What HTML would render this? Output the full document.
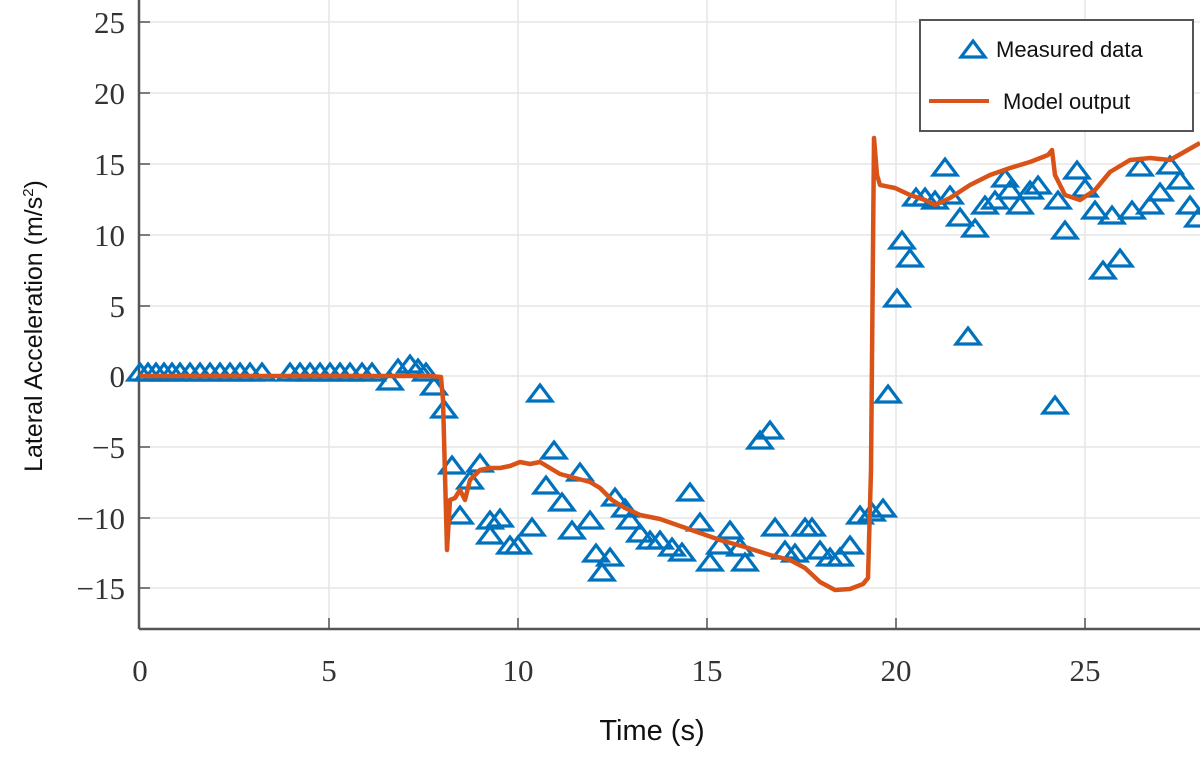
<!DOCTYPE html>
<html><head><meta charset="utf-8"><style>body{margin:0;background:#fff}svg{display:block}</style></head>
<body>
<svg width="1200" height="768" viewBox="0 0 1200 768" xmlns="http://www.w3.org/2000/svg" font-family="Liberation Serif, serif">
<rect width="1200" height="768" fill="#fff"/>
<g stroke="#e6e6e6" stroke-width="1.5">
<line x1="329" y1="0" x2="329" y2="629"/><line x1="518" y1="0" x2="518" y2="629"/><line x1="707" y1="0" x2="707" y2="629"/><line x1="896" y1="0" x2="896" y2="629"/><line x1="1085" y1="0" x2="1085" y2="629"/>
<line x1="140" y1="22" x2="1200" y2="22"/><line x1="140" y1="93" x2="1200" y2="93"/><line x1="140" y1="164" x2="1200" y2="164"/><line x1="140" y1="235" x2="1200" y2="235"/><line x1="140" y1="306" x2="1200" y2="306"/><line x1="140" y1="376" x2="1200" y2="376"/><line x1="140" y1="447" x2="1200" y2="447"/><line x1="140" y1="518" x2="1200" y2="518"/><line x1="140" y1="588" x2="1200" y2="588"/>
</g>
<g stroke="#555" stroke-width="2.5" fill="none">
<line x1="139" y1="0" x2="139" y2="629"/><line x1="139" y1="629" x2="1200" y2="629"/>
</g>
<g stroke="#555" stroke-width="1.5">
<line x1="139" y1="22" x2="150" y2="22"/><line x1="139" y1="93" x2="150" y2="93"/><line x1="139" y1="164" x2="150" y2="164"/><line x1="139" y1="235" x2="150" y2="235"/><line x1="139" y1="306" x2="150" y2="306"/><line x1="139" y1="376" x2="150" y2="376"/><line x1="139" y1="447" x2="150" y2="447"/><line x1="139" y1="518" x2="150" y2="518"/><line x1="139" y1="588" x2="150" y2="588"/>
<line x1="329" y1="629" x2="329" y2="618"/><line x1="518" y1="629" x2="518" y2="618"/><line x1="707" y1="629" x2="707" y2="618"/><line x1="896" y1="629" x2="896" y2="618"/><line x1="1085" y1="629" x2="1085" y2="618"/>
</g>
<g font-size="31" fill="#333" text-anchor="end">
<text x="125" y="33">25</text><text x="125" y="104">20</text><text x="125" y="175">15</text><text x="125" y="246">10</text><text x="125" y="317">5</text><text x="125" y="387">0</text><text x="125" y="458">−5</text><text x="125" y="529">−10</text><text x="125" y="599">−15</text>
</g>
<g font-size="31" fill="#333" text-anchor="middle">
<text x="140" y="681">0</text><text x="329" y="681">5</text><text x="518" y="681">10</text><text x="707" y="681">15</text><text x="896" y="681">20</text><text x="1085" y="681">25</text>
</g>
<text x="652" y="740" font-family="Liberation Sans, sans-serif" font-size="29" text-anchor="middle" fill="#111">Time (s)</text>
<text transform="translate(42,326) rotate(-90)" font-family="Liberation Sans, sans-serif" font-size="25" text-anchor="middle" fill="#111">Lateral Acceleration (m/s<tspan dy="-9" font-size="15">2</tspan><tspan dy="9">)</tspan></text>
<defs><path id="t" d="M0,-8 L12,8 L-12,8 Z" fill="none" stroke="#0072BD" stroke-width="3.2"/></defs>
<g>
<use href="#t" x="140" y="372"/><use href="#t" x="148" y="372"/><use href="#t" x="156" y="372"/><use href="#t" x="164" y="372"/><use href="#t" x="172" y="372"/><use href="#t" x="180" y="372"/><use href="#t" x="190" y="372"/><use href="#t" x="200" y="372"/><use href="#t" x="210" y="372"/><use href="#t" x="220" y="372"/><use href="#t" x="230" y="372"/><use href="#t" x="240" y="372"/><use href="#t" x="250" y="372"/><use href="#t" x="262" y="372"/><use href="#t" x="290" y="372"/><use href="#t" x="300" y="372"/><use href="#t" x="310" y="372"/><use href="#t" x="320" y="372"/><use href="#t" x="330" y="372"/><use href="#t" x="340" y="372"/><use href="#t" x="350" y="372"/><use href="#t" x="362" y="372"/><use href="#t" x="372" y="372"/>
<use href="#t" x="390" y="381"/><use href="#t" x="398" y="368"/><use href="#t" x="410" y="364"/><use href="#t" x="418" y="368"/><use href="#t" x="426" y="372"/><use href="#t" x="434" y="386"/><use href="#t" x="444" y="409"/><use href="#t" x="452" y="465"/><use href="#t" x="460" y="515"/><use href="#t" x="480" y="463"/><use href="#t" x="470" y="480"/><use href="#t" x="490" y="520"/><use href="#t" x="500" y="518"/><use href="#t" x="490" y="535"/><use href="#t" x="510" y="545"/><use href="#t" x="518" y="545"/><use href="#t" x="532" y="527"/><use href="#t" x="540" y="393"/><use href="#t" x="554" y="450"/><use href="#t" x="546" y="485"/><use href="#t" x="562" y="502"/><use href="#t" x="572" y="530"/><use href="#t" x="580" y="472"/><use href="#t" x="590" y="520"/><use href="#t" x="596" y="553"/><use href="#t" x="602" y="572"/><use href="#t" x="610" y="557"/><use href="#t" x="615" y="497"/><use href="#t" x="625" y="508"/><use href="#t" x="630" y="520"/><use href="#t" x="640" y="533"/><use href="#t" x="650" y="540"/><use href="#t" x="660" y="540"/><use href="#t" x="672" y="547"/><use href="#t" x="682" y="552"/><use href="#t" x="690" y="492"/><use href="#t" x="700" y="522"/><use href="#t" x="710" y="562"/><use href="#t" x="720" y="545"/><use href="#t" x="730" y="530"/><use href="#t" x="740" y="547"/><use href="#t" x="745" y="562"/><use href="#t" x="760" y="440"/><use href="#t" x="770" y="430"/><use href="#t" x="775" y="527"/><use href="#t" x="785" y="550"/><use href="#t" x="795" y="553"/><use href="#t" x="805" y="527"/><use href="#t" x="812" y="527"/><use href="#t" x="820" y="550"/><use href="#t" x="830" y="557"/><use href="#t" x="840" y="557"/><use href="#t" x="850" y="545"/><use href="#t" x="860" y="515"/><use href="#t" x="872" y="512"/><use href="#t" x="883" y="508"/><use href="#t" x="888" y="394"/><use href="#t" x="897" y="298"/><use href="#t" x="902" y="240"/><use href="#t" x="910" y="258"/><use href="#t" x="916" y="197"/><use href="#t" x="925" y="197"/><use href="#t" x="935" y="200"/><use href="#t" x="945" y="167"/><use href="#t" x="950" y="195"/><use href="#t" x="960" y="217"/><use href="#t" x="968" y="336"/><use href="#t" x="975" y="228"/><use href="#t" x="985" y="205"/><use href="#t" x="995" y="200"/><use href="#t" x="1005" y="178"/><use href="#t" x="1010" y="190"/><use href="#t" x="1020" y="205"/><use href="#t" x="1030" y="190"/><use href="#t" x="1038" y="185"/><use href="#t" x="1055" y="405"/><use href="#t" x="1058" y="200"/><use href="#t" x="1065" y="230"/><use href="#t" x="1077" y="170"/><use href="#t" x="1085" y="188"/><use href="#t" x="1095" y="210"/><use href="#t" x="1103" y="270"/><use href="#t" x="1112" y="215"/><use href="#t" x="1120" y="258"/><use href="#t" x="1132" y="210"/><use href="#t" x="1140" y="167"/><use href="#t" x="1150" y="205"/><use href="#t" x="1160" y="192"/><use href="#t" x="1170" y="165"/><use href="#t" x="1180" y="180"/><use href="#t" x="1190" y="205"/><use href="#t" x="1198" y="218"/>
</g>
<polyline fill="none" stroke="#D95319" stroke-width="4.5" stroke-linejoin="round" points="140,376 300,376 430,376 441,377 443,400 447,550 450,500 455,498 460,490 465,500 470,480 480,470 490,468 500,468 510,466 520,462 530,464 540,462 550,468 560,474 575,478 590,482 600,488 612,500 625,508 640,515 660,519 680,526 700,533 720,540 745,547 770,555 790,560 805,568 820,582 835,590 850,589 863,584 868,578 871,470 874,138 877,175 880,185 895,188 910,195 925,200 935,205 950,198 970,185 990,175 1010,168 1030,162 1048,155 1052,150 1055,175 1065,195 1080,200 1095,190 1110,172 1130,160 1150,158 1170,160 1200,143"/>
<rect x="920" y="20" width="273" height="111" fill="#fff" stroke="#555" stroke-width="2"/>
<use href="#t" x="973" y="49"/>
<line x1="929" y1="101" x2="989" y2="101" stroke="#D95319" stroke-width="4"/>
<g font-family="Liberation Sans, sans-serif" font-size="22" fill="#111">
<text x="996" y="57">Measured data</text><text x="1003" y="109">Model output</text>
</g>
</svg>
</body></html>
